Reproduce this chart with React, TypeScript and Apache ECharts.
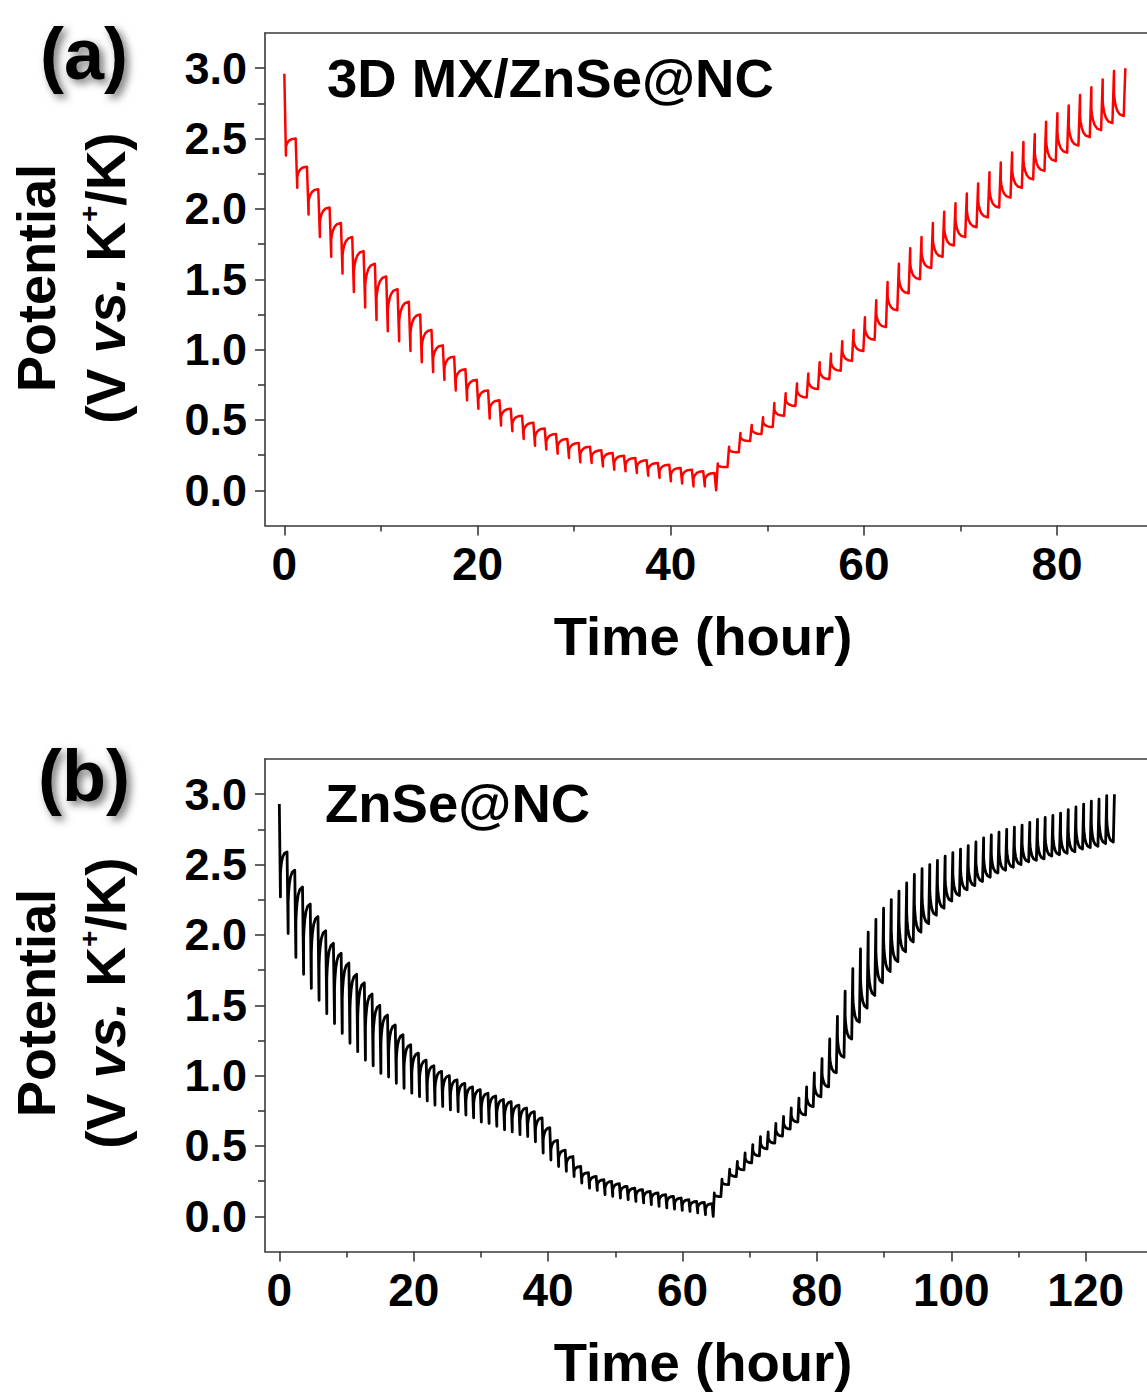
import React, { useEffect, useRef } from "react";
import * as echarts from "echarts";

// ---------- protocol (hours) ----------
const PULSE_H = 10 / 60;
const A_DIS_PERIOD = 1.172;
const A_CHG_PERIOD = 1.172;
const B_DIS_PERIOD = 1.15;
const B_CHG_PERIOD = 1.145;

// ---------- panel (a) 3D MX/ZnSe@NC ----------
// relaxed potential before each discharge pulse
const A_DIS_TOP = [2.96, 2.5, 2.3, 2.14, 2.01, 1.9, 1.8, 1.7, 1.61, 1.52, 1.43, 1.34, 1.25, 1.14, 1.03, 0.95, 0.86, 0.785, 0.71, 0.64, 0.58, 0.53, 0.48, 0.44, 0.4, 0.365, 0.336, 0.31, 0.284, 0.265, 0.246, 0.23, 0.213, 0.194, 0.182, 0.159, 0.147, 0.135, 0.123];
// potential at the end of each discharge pulse
const A_DIS_TIP = [2.38, 2.15, 1.96, 1.8, 1.66, 1.54, 1.41, 1.3, 1.21, 1.13, 1.06, 0.99, 0.91, 0.84, 0.785, 0.71, 0.64, 0.58, 0.51, 0.46, 0.42, 0.365, 0.317, 0.29, 0.26, 0.23, 0.2, 0.195, 0.17, 0.147, 0.135, 0.123, 0.104, 0.088, 0.064, 0.048, 0.028, 0.028, 0.0];
// potential at the end of each charge pulse
const A_CHG_TIP = [0.19, 0.31, 0.407, 0.465, 0.52, 0.62, 0.69, 0.76, 0.83, 0.91, 0.97, 1.06, 1.14, 1.23, 1.35, 1.48, 1.61, 1.72, 1.8, 1.9, 1.98, 2.04, 2.11, 2.18, 2.26, 2.33, 2.4, 2.475, 2.53, 2.62, 2.68, 2.735, 2.81, 2.865, 2.92, 2.98, 3.0];
// relaxed potential after each charge pulse
const A_CHG_BASE = [0.165, 0.27, 0.35, 0.4, 0.45, 0.53, 0.6, 0.66, 0.72, 0.79, 0.85, 0.92, 0.99, 1.07, 1.16, 1.28, 1.4, 1.5, 1.58, 1.66, 1.74, 1.8, 1.87, 1.94, 2.01, 2.08, 2.15, 2.21, 2.27, 2.34, 2.4, 2.45, 2.51, 2.56, 2.61, 2.66];

// ---------- panel (b) ZnSe@NC ----------
const B_DIS_TOP = [2.93, 2.59, 2.46, 2.34, 2.22, 2.13, 2.03, 1.94, 1.87, 1.8, 1.72, 1.66, 1.58, 1.5, 1.43, 1.36, 1.29, 1.22, 1.16, 1.11, 1.07, 1.03, 1.0, 0.97, 0.945, 0.92, 0.9, 0.875, 0.855, 0.83, 0.815, 0.79, 0.77, 0.744, 0.7, 0.63, 0.54, 0.47, 0.425, 0.354, 0.31, 0.283, 0.26, 0.248, 0.232, 0.213, 0.2, 0.19, 0.177, 0.166, 0.154, 0.142, 0.13, 0.118, 0.106, 0.099, 0.09];
const B_DIS_TIP = [2.27, 2.01, 1.84, 1.72, 1.62, 1.535, 1.44, 1.37, 1.3, 1.23, 1.17, 1.11, 1.07, 1.016, 0.99, 0.945, 0.91, 0.875, 0.85, 0.82, 0.79, 0.78, 0.756, 0.744, 0.72, 0.7, 0.67, 0.66, 0.64, 0.615, 0.6, 0.58, 0.567, 0.53, 0.45, 0.4, 0.354, 0.32, 0.283, 0.236, 0.2, 0.184, 0.154, 0.142, 0.13, 0.118, 0.106, 0.095, 0.083, 0.071, 0.06, 0.052, 0.043, 0.035, 0.024, 0.012, 0.0];
const B_CHG_TIP = [0.166, 0.265, 0.336, 0.39, 0.45, 0.51, 0.567, 0.6, 0.66, 0.71, 0.77, 0.84, 0.92, 1.02, 1.12, 1.26, 1.42, 1.6, 1.76, 1.9, 2.02, 2.11, 2.19, 2.25, 2.31, 2.37, 2.43, 2.47, 2.5, 2.53, 2.56, 2.585, 2.61, 2.635, 2.66, 2.69, 2.71, 2.73, 2.75, 2.765, 2.78, 2.8, 2.82, 2.835, 2.85, 2.865, 2.89, 2.91, 2.93, 2.95, 2.965, 2.99, 3.0];
const B_CHG_BASE = [0.14, 0.225, 0.283, 0.33, 0.38, 0.43, 0.48, 0.52, 0.57, 0.62, 0.67, 0.72, 0.78, 0.85, 0.92, 1.02, 1.13, 1.26, 1.38, 1.48, 1.57, 1.66, 1.74, 1.81, 1.88, 1.95, 2.02, 2.08, 2.14, 2.19, 2.24, 2.28, 2.32, 2.35, 2.38, 2.41, 2.44, 2.46, 2.48, 2.5, 2.52, 2.53, 2.54, 2.56, 2.57, 2.58, 2.59, 2.61, 2.62, 2.63, 2.65, 2.66];

// ---------- axis ticks ----------
const A_X_TICKS = [0, 20, 40, 60, 80];
const A_X_MINOR = [10, 30, 50, 70];
const B_X_TICKS = [0, 20, 40, 60, 80, 100, 120];
const B_X_MINOR = [10, 30, 50, 70, 90, 110];
const Y_TICKS = [0, 0.5, 1.0, 1.5, 2.0, 2.5, 3.0];
const Y_MINOR = [0.25, 0.75, 1.25, 1.75, 2.25, 2.75];

// relaxation shape (fraction of rest period, remaining fraction of overpotential)
const RELAX_T = [0, 0.06, 0.18, 0.35, 0.6, 1];
const RELAX_F = [0.5, 0.36, 0.22, 0.11, 0.035, 0];

function buildGitt(disTop, disTip, disPeriod, chgTip, chgBase, chgPeriod) {
  const pts = [];
  const K = disTip.length - 1;
  for (let k = 0; k <= K; k++) {
    const t = k * disPeriod;
    pts.push([t, disTop[k]]);
    pts.push([t + PULSE_H, disTip[k]]);
    if (k < K) {
      const next = disTop[k + 1];
      const rest = disPeriod - PULSE_H;
      for (let r = 0; r < RELAX_T.length; r++) {
        pts.push([t + PULSE_H + RELAX_T[r] * rest, next + (disTip[k] - next) * RELAX_F[r]]);
      }
    }
  }
  const tc = K * disPeriod + PULSE_H;
  const J = chgTip.length - 1;
  for (let j = 0; j <= J; j++) {
    const t = tc + j * chgPeriod;
    const base = j === 0 ? disTip[K] : chgBase[j - 1];
    pts.push([t, base]);
    pts.push([t + PULSE_H, chgTip[j]]);
    if (j < J) {
      const next = chgBase[j];
      const rest = chgPeriod - PULSE_H;
      for (let r = 0; r < RELAX_T.length; r++) {
        pts.push([t + PULSE_H + RELAX_T[r] * rest, next + (chgTip[j] - next) * RELAX_F[r]]);
      }
    }
  }
  return pts;
}

const FONT = '"Liberation Sans", Arial, Helvetica, sans-serif';
const AXIS_COLOR = "#3a3a3a";

function mainX(grid, min, max, ticks) {
  return {
    type: "value", gridIndex: grid, position: "bottom", min, max,
    axisLine: { show: true, onZero: false, lineStyle: { color: AXIS_COLOR, width: 1.6 } },
    axisTick: { show: true, inside: false, length: 10, customValues: ticks, lineStyle: { color: AXIS_COLOR, width: 1.6 } },
    axisLabel: { show: true, customValues: ticks, margin: 15, fontSize: 46, fontWeight: "bold", fontFamily: FONT, color: "#000",
      formatter: (v) => String(Math.round(v)) },
    splitLine: { show: false },
    name: "Time (hour)", nameLocation: "middle", nameGap: 83,
    nameTextStyle: { fontSize: 54.5, fontWeight: "bold", fontFamily: FONT, color: "#000", padding: [0, 6, 0, 0] },
  };
}
function minorX(grid, min, max, ticks) {
  return {
    type: "value", gridIndex: grid, position: "bottom", offset: 0, min, max,
    axisLine: { show: false, onZero: false },
    axisTick: { show: true, inside: false, length: 6, customValues: ticks, lineStyle: { color: AXIS_COLOR, width: 1.6 } },
    axisLabel: { show: false }, splitLine: { show: false },
  };
}
function topX(grid, min, max) {
  return {
    type: "value", gridIndex: grid, position: "top", min, max,
    axisLine: { show: true, onZero: false, lineStyle: { color: AXIS_COLOR, width: 1.6 } },
    axisTick: { show: false }, axisLabel: { show: false }, splitLine: { show: false },
  };
}
function mainY(grid) {
  return {
    type: "value", gridIndex: grid, position: "left", min: -0.25, max: 3.25,
    axisLine: { show: true, onZero: false, lineStyle: { color: AXIS_COLOR, width: 1.6 } },
    axisTick: { show: true, inside: false, length: 10, customValues: Y_TICKS, lineStyle: { color: AXIS_COLOR, width: 1.6 } },
    axisLabel: { show: true, customValues: Y_TICKS, margin: 18, fontSize: 45, fontWeight: "bold", fontFamily: FONT, color: "#000",
      formatter: (v) => v.toFixed(1) },
    splitLine: { show: false },
  };
}
function minorY(grid) {
  return {
    type: "value", gridIndex: grid, position: "left", offset: 0, min: -0.25, max: 3.25,
    axisLine: { show: false, onZero: false },
    axisTick: { show: true, inside: false, length: 7, customValues: Y_MINOR, lineStyle: { color: AXIS_COLOR, width: 1.6 } },
    axisLabel: { show: false }, splitLine: { show: false },
  };
}

function yName(cx, cy) {
  return [
    {
      type: "text", x: cx - 35, y: cy, rotation: Math.PI / 2,
      style: { text: "Potential", fontSize: 54, fontWeight: "bold", fontFamily: FONT, fill: "#000", align: "center", verticalAlign: "middle" },
    },
    {
      type: "text", x: cx + 35, y: cy, rotation: Math.PI / 2,
      style: {
        text: "{n|(V }{i|vs.}{n| K}{s|+}{n|/K)}",
        align: "center", verticalAlign: "middle",
        rich: {
          n: { fontSize: 55, fontWeight: "bold", fontFamily: FONT, fill: "#000", lineHeight: 62 },
          i: { fontSize: 55, fontWeight: "bold", fontStyle: "italic", fontFamily: FONT, fill: "#000", lineHeight: 62 },
          s: { fontSize: 28, fontWeight: "bold", fontFamily: FONT, fill: "#000", verticalAlign: "top", lineHeight: 62 },
        },
      },
    },
  ];
}

function panelLabel(text, cx, cy) {
  return {
    type: "text", x: cx, y: cy,
    style: {
      text, fontSize: 72, fontWeight: "bold", fontFamily: FONT, fill: "#000", align: "center", verticalAlign: "middle",
      textShadowColor: "rgba(0,0,0,0.55)", textShadowBlur: 8, textShadowOffsetX: 4, textShadowOffsetY: 4,
    },
  };
}

function titleText(text, x, cy) {
  return {
    type: "text", x, y: cy,
    style: { text, fontSize: 54.5, fontWeight: "bold", fontFamily: FONT, fill: "#000", align: "left", verticalAlign: "middle" },
  };
}

export default function App() {
  const ref = useRef(null);
  useEffect(() => {
    const chart = echarts.init(ref.current, null, { renderer: "svg" });
    const aData = buildGitt(A_DIS_TOP, A_DIS_TIP, A_DIS_PERIOD, A_CHG_TIP, A_CHG_BASE, A_CHG_PERIOD);
    const bData = buildGitt(B_DIS_TOP, B_DIS_TIP, B_DIS_PERIOD, B_CHG_TIP, B_CHG_BASE, B_CHG_PERIOD);
    const aMin = -2.0, aMax = -2.0 + 882 / 9.66;
    const bMin = -2.13, bMax = -2.13 + 882 / 6.72;
    chart.setOption({
      animation: false,
      backgroundColor: "#fff",
      grid: [
        { left: 265, top: 33, width: 882, height: 492.5, containLabel: false },
        { left: 265, top: 759, width: 882, height: 492.5, containLabel: false },
      ],
      xAxis: [
        mainX(0, aMin, aMax, A_X_TICKS), minorX(0, aMin, aMax, A_X_MINOR), topX(0, aMin, aMax),
        mainX(1, bMin, bMax, B_X_TICKS), minorX(1, bMin, bMax, B_X_MINOR), topX(1, bMin, bMax),
      ],
      yAxis: [mainY(0), minorY(0), mainY(1), minorY(1)],
      series: [
        { type: "line", xAxisIndex: 0, yAxisIndex: 0, data: aData, showSymbol: false, symbol: "none",
          lineStyle: { color: "#ff0000", width: 2.5, join: "round" }, clip: true },
        { type: "line", xAxisIndex: 3, yAxisIndex: 2, data: bData, showSymbol: false, symbol: "none",
          lineStyle: { color: "#000000", width: 2.8, join: "round" }, clip: true },
      ],
      graphic: [
        panelLabel("(a)", 84, 54),
        panelLabel("(b)", 84, 776),
        titleText("3D MX/ZnSe@NC", 327, 78),
        titleText("ZnSe@NC", 325, 803),
        ...yName(71, 278),
        ...yName(71, 1003),
      ],
    });
    return () => chart.dispose();
  }, []);
  return <div ref={ref} style={{ position: "absolute", left: 0, top: 0, width: 1147, height: 1394 }} />;
}
